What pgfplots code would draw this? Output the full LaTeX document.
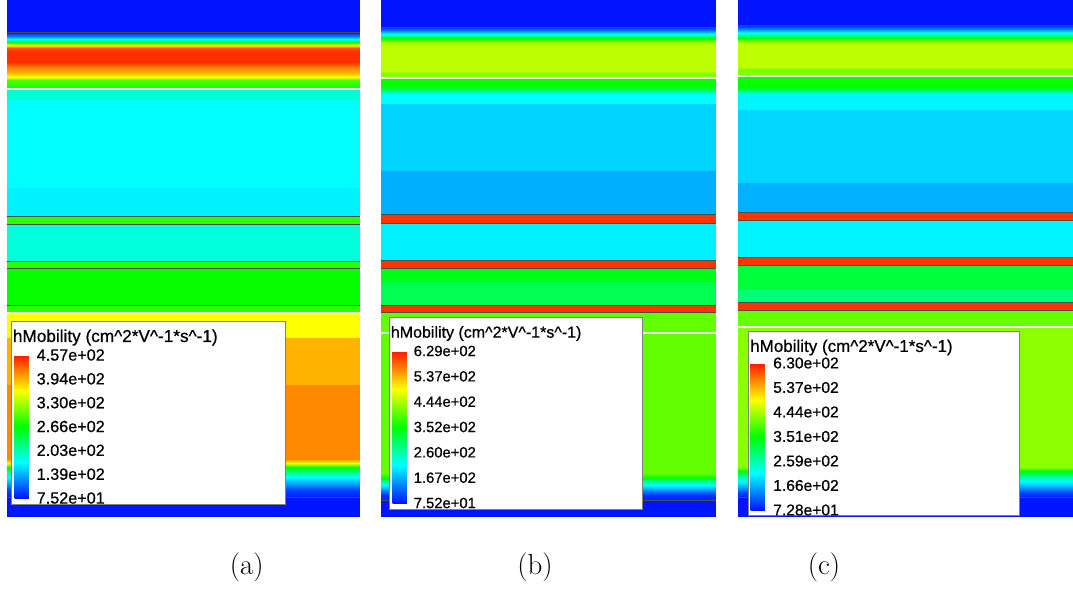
\documentclass[border=0pt]{standalone}
\usepackage{pgfplots}
\usepackage{pgfplotstable}
\pgfplotsset{compat=1.18}
\usepackage{fontspec}
\newfontfamily\arialf[FakeBold=0.6]{Liberation Sans}
\usetikzlibrary{calc}
\pgfplotsset{colormap={sent}{rgb255(0cm)=(0,20,255); rgb255(1cm)=(0,255,255); rgb255(2cm)=(0,255,0); rgb255(3cm)=(255,255,0); rgb255(4cm)=(255,25,0)}}
\pgfplotsset{
  panel/.style={scale only axis, anchor=north west, view={0}{90}, y dir=reverse, hide axis,
    xmin=0, ymin=0, ymax=516, zmin=-1, zmax=1, colorbar, colormap name=sent},
  cbar/.style={anchor=north west, scale only axis, axis line style={draw=none},
    major tick length=0pt, yticklabel style={inner sep=0pt, xshift=2pt, anchor=west}},
  band/.style={surf, shader=interp, mesh/cols=2, point meta=explicit},
  darkline/.style={draw=black!70, line width=1pt},
  lightline/.style={draw=white!85!gray, line width=1.3pt},
}
% panel (a): y (pixels from top) and mobility value
\pgfplotstableread{
x y v
0 0 75.2
353 0 75.2
0 32 75.2
353 32 75.2
0 33 82
353 33 82
0 35.5 120
353 35.5 120
0 38.5 170
353 38.5 170
0 41.5 255
353 41.5 255
0 44.5 361
353 44.5 361
0 48 432
353 48 432
0 51 448
353 51 448
0 62 448
353 62 448
0 66 420
353 66 420
0 72 395
353 72 395
0 77 361
353 77 361
0 80 295
353 80 295
0 87 276
353 87 276
0 88.9 276
353 88.9 276
0 89.1 186
353 89.1 186
0 99 184
353 99 184
0 101 171
353 101 171
0 188 171
353 188 171
0 188.1 165
353 188.1 165
0 216 165
353 216 165
0 216.1 281
353 216.1 281
0 224 281
353 224 281
0 224.1 184
353 224.1 184
0 261 184
353 261 184
0 261.1 281
353 261.1 281
0 268 281
353 268 281
0 268.1 268
353 268.1 268
0 305 268
353 305 268
0 305.1 281
353 305.1 281
0 313 281
353 313 281
0 313.1 361
353 313.1 361
0 338 361
353 338 361
0 338.1 393
353 338.1 393
0 385 393
353 385 393
0 385.1 410
353 385.1 410
0 459 410
353 459 410
0 463 361
353 463 361
0 467 268
353 467 268
0 471 230
353 471 230
0 477 172
353 477 172
0 484 130
353 484 130
0 490 95
353 490 95
0 496.8 80
353 496.8 80
0 497 75.2
353 497 75.2
0 516 75.2
353 516 75.2
}\dataA
\pgfplotstableread{
x y v
0 0 75.2
335 0 75.2
0 27 75.2
335 27 75.2
0 27.2 82
335 27.2 82
0 30 130
335 30 130
0 34 214
335 34 214
0 38 352
335 38 352
0 42 435
335 42 435
0 45 455
335 45 455
0 71 455
335 71 455
0 73 425
335 73 425
0 77.9 422
335 77.9 422
0 78.1 360
335 78.1 360
0 86 352
335 86 352
0 90 300
335 90 300
0 94 214
335 94 214
0 104 214
335 104 214
0 104.1 189
335 104.1 189
0 171 189
335 171 189
0 171.1 167
335 171.1 167
0 214.4 167
335 214.4 167
0 214.6 612
335 214.6 612
0 223.4 612
335 223.4 612
0 223.6 205
335 223.6 205
0 260.4 205
335 260.4 205
0 260.6 612
335 260.6 612
0 267.9 612
335 267.9 612
0 268.1 341
335 268.1 341
0 282 341
335 282 341
0 282.1 308
335 282.1 308
0 305.4 308
335 305.4 308
0 305.6 612
335 305.6 612
0 312.4 612
335 312.4 612
0 312.6 406
335 312.6 406
0 473 406
335 473 406
0 478 352
335 478 352
0 482 250
335 482 250
0 486 205
335 486 205
0 490 150
335 490 150
0 495 95
335 495 95
0 499.8 82
335 499.8 82
0 500 75.2
335 500 75.2
0 516 75.2
335 516 75.2
}\dataB
\pgfplotstableread{
x y v
0 0 72.8
335 0 72.8
0 25 72.8
335 25 72.8
0 25.2 80
335 25.2 80
0 29 140
335 29 140
0 33 220
335 33 220
0 38 351
335 38 351
0 42 440
335 42 440
0 44 455
335 44 455
0 67 455
335 67 455
0 68.5 422
335 68.5 422
0 75.9 422
335 75.9 422
0 76.1 360
335 76.1 360
0 87 351
335 87 351
0 91 280
335 91 280
0 95 206
335 95 206
0 110 206
335 110 206
0 110.1 188
335 110.1 188
0 183 188
335 183 188
0 183.1 166
335 183.1 166
0 212 166
335 212 166
0 212.2 613
335 212.2 613
0 219.8 613
335 219.8 613
0 220 206
335 220 206
0 257 206
335 257 206
0 257.2 613
335 257.2 613
0 264.8 613
335 264.8 613
0 265 319
335 265 319
0 290 319
335 290 319
0 290.1 286
335 290.1 286
0 302 286
335 302 286
0 302.2 613
335 302.2 613
0 309.8 613
335 309.8 613
0 310 406
335 310 406
0 327 406
335 327 406
0 327.1 428
335 327.1 428
0 467 428
335 467 428
0 471 351
335 471 351
0 477 260
335 477 260
0 482 206
335 482 206
0 487 160
335 487 160
0 493 100
335 493 100
0 496.8 80
335 496.8 80
0 497 72.8
335 497 72.8
0 516 72.8
335 516 72.8
}\dataC
\begin{document}
\begin{tikzpicture}
\path[use as bounding box] (0pt,0pt) rectangle (1073pt,-592pt);
% ---------------- (a)
\begin{axis}[panel, at={(7pt,0pt)}, width=353pt, height=516pt, xmax=353,
  point meta min=75.2, point meta max=457,
  colorbar style={cbar, at={($(parent axis.north west)+(-1pt,-355pt)$)},
    width=20pt, height=143pt,
    ytick={75.2,138.83,202.47,266.1,329.73,393.37,457},
    yticklabels={7.52e+01,1.39e+02,2.03e+02,2.66e+02,3.30e+02,3.94e+02,4.57e+02},
    yticklabel style={font=\arialf\fontsize{16.2}{18}\selectfont}}]
\addplot3[band] table[x=x, y=y, z expr=0, meta=v] {\dataA};
\pgfplotsinvokeforeach{32,216,224,261,268,305,497}{
  \addplot3[darkline] coordinates {(0,#1,0) (353,#1,0)};}
\pgfplotsinvokeforeach{89,313}{
  \addplot3[lightline] coordinates {(0,#1,0) (353,#1,0)};}
\draw[draw=gray, fill=white, line width=0.8pt] (axis cs:4,321,0) rectangle (axis cs:278,504,0);
\node[anchor=west, inner sep=0pt, font=\arialf\fontsize{17.2}{19}\selectfont] at (axis cs:5.7,337.5,0)
  {hMobility (cm\textasciicircum 2*V\textasciicircum -1*s\textasciicircum -1)};
\end{axis}
% ---------------- (b)
\begin{axis}[panel, at={(381pt,0pt)}, width=335pt, height=516pt, xmax=335,
  point meta min=75.2, point meta max=629,
  colorbar style={cbar, at={($(parent axis.north west)+(3pt,-351pt)$)},
    width=19pt, height=152pt,
    ytick={75.2,167.5,259.8,352.1,444.4,536.7,629},
    yticklabels={7.52e+01,1.67e+02,2.60e+02,3.52e+02,4.44e+02,5.37e+02,6.29e+02},
    yticklabel style={font=\arialf\fontsize{14.8}{17}\selectfont}}]
\addplot3[band] table[x=x, y=y, z expr=0, meta=v] {\dataB};
\pgfplotsinvokeforeach{27,214.5,223.5,260.5,268,305.5,312.5,500}{
  \addplot3[darkline] coordinates {(0,#1,0) (335,#1,0)};}
\pgfplotsinvokeforeach{78,333}{
  \addplot3[lightline] coordinates {(0,#1,0) (335,#1,0)};}
\draw[draw=gray, fill=white, line width=0.8pt] (axis cs:8,317,0) rectangle (axis cs:261,509,0);
\node[anchor=west, inner sep=0pt, font=\arialf\fontsize{16}{18}\selectfont] at (axis cs:9.7,333.5,0)
  {hMobility (cm\textasciicircum 2*V\textasciicircum -1*s\textasciicircum -1)};
\end{axis}
% ---------------- (c)
\begin{axis}[panel, at={(738pt,0pt)}, width=335pt, height=516pt, xmax=335,
  point meta min=72.8, point meta max=630,
  colorbar style={cbar, at={($(parent axis.north west)+(4pt,-363pt)$)},
    width=20.5pt, height=147pt,
    ytick={72.8,165.67,258.53,351.4,444.27,537.13,630},
    yticklabels={7.28e+01,1.66e+02,2.59e+02,3.51e+02,4.44e+02,5.37e+02,6.30e+02},
    yticklabel style={font=\arialf\fontsize{15.6}{18}\selectfont}}]
\addplot3[band] table[x=x, y=y, z expr=0, meta=v] {\dataC};
\pgfplotsinvokeforeach{25,212,220,257,265,302,310,497}{
  \addplot3[darkline] coordinates {(0,#1,0) (335,#1,0)};}
\pgfplotsinvokeforeach{76,327}{
  \addplot3[lightline] coordinates {(0,#1,0) (335,#1,0)};}
\draw[draw=gray, fill=white, line width=0.8pt] (axis cs:10,331,0) rectangle (axis cs:281,515,0);
\node[anchor=west, inner sep=0pt, font=\arialf\fontsize{17}{19}\selectfont] at (axis cs:12,347.5,0)
  {hMobility (cm\textasciicircum 2*V\textasciicircum -1*s\textasciicircum -1)};
\end{axis}
% captions
\node[font=\fontsize{29}{34}\selectfont] at (246.7pt,-567pt) {(a)};
\node[font=\fontsize{29}{34}\selectfont] at (535pt,-567pt) {(b)};
\node[font=\fontsize{29}{34}\selectfont] at (824pt,-567pt) {(c)};
\end{tikzpicture}
\end{document}
